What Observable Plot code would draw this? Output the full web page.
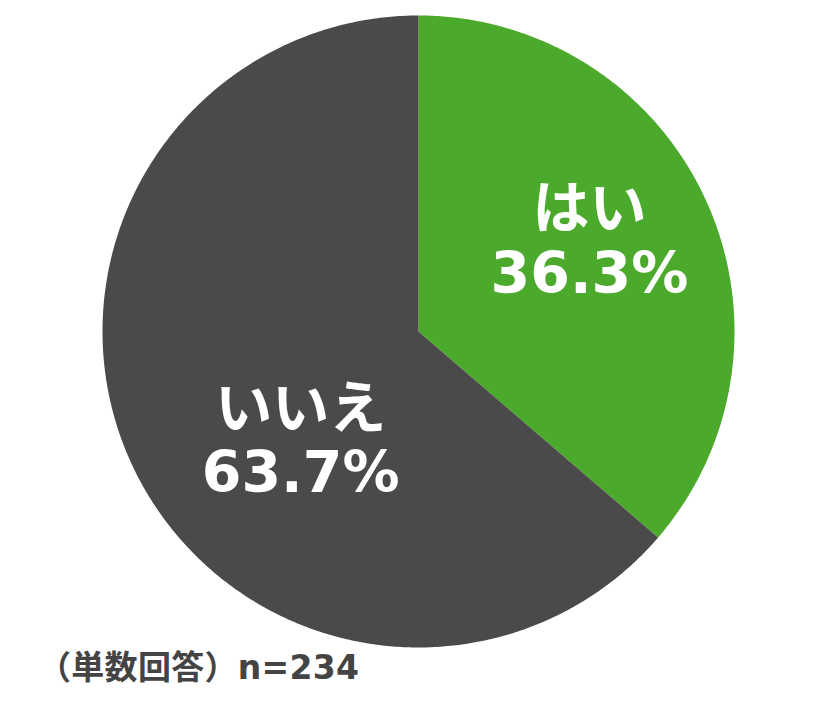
<!DOCTYPE html>
<html>
<head>
<meta charset="utf-8">
<script src="https://cdn.jsdelivr.net/npm/d3@7"></script>
<script src="https://cdn.jsdelivr.net/npm/@observablehq/plot@0.6"></script>
<style>
  html, body { margin: 0; padding: 0; background: #fff; }
  #chart { width: 840px; }
  .caption {
    font-family: "DejaVu Sans", "Noto Sans CJK JP", sans-serif;
    font-weight: bold;
    font-size: 33px;
    color: #444;
    padding-left: 38px;
    margin-top: -4px;
    line-height: 34px;
    letter-spacing: 0.3px;
  }
</style>
</head>
<body>
<div id="chart"></div>
<script>
// ---- data ----
const categories = ["はい", "いいえ"];
const shares = [36.3, 63.7];
const colors = ["#4BAA2C", "#4A4A4A"];
const captionText = "（単数回答）n=234";

// ---- layout (not data) ----
const W = 840, H = 655;
const cx = 418, cy = 331, R = 316;
const labelAnchor = { "はい": [0.541, 0.290], "いいえ": [-0.373, -0.342] };

// build wedge polygons from the shares
const total = d3.sum(shares);
const wedgePts = [];
let start = 0;
categories.forEach((c, i) => {
  const a0 = start / total * 2 * Math.PI;
  const a1 = (start + shares[i]) / total * 2 * Math.PI;
  wedgePts.push({cat: c, x: 0, y: 0});
  const n = Math.max(2, Math.ceil((a1 - a0) / (Math.PI / 360)));
  for (let k = 0; k <= n; k++) {
    const a = a0 + (a1 - a0) * k / n;
    wedgePts.push({cat: c, x: Math.sin(a), y: Math.cos(a)});
  }
  wedgePts.push({cat: c, x: 0, y: 0});
  start += shares[i];
});

const labels = categories.map((c, i) => ({
  cat: c,
  x: labelAnchor[c][0],
  y: labelAnchor[c][1],
  text: `${c}\n${shares[i].toFixed(1)}%`
}));

const plot = Plot.plot({
  width: W,
  height: H,
  margin: 0,
  style: { background: "#fff", overflow: "visible" },
  x: { domain: [-1, 1], range: [cx - R, cx + R], axis: null },
  y: { domain: [-1, 1], range: [cy + R, cy - R], axis: null },
  color: { domain: categories, range: colors },
  marks: [
    Plot.line(wedgePts, {
      x: "x", y: "y", z: "cat",
      fill: "cat",
      stroke: "none",
      curve: "linear-closed"
    }),
    Plot.text(labels, {
      x: "x", y: "y", text: "text",
      fill: "white",
      fontSize: 57,
      fontWeight: "bold",
      fontFamily: "\"DejaVu Sans\", \"Noto Sans CJK JP\", sans-serif",
      lineHeight: 1.13,
      textAnchor: "middle",
      lineAnchor: "middle"
    })
  ]
});

document.getElementById("chart").appendChild(plot);
const cap = document.createElement("div");
cap.className = "caption";
cap.textContent = captionText;
document.getElementById("chart").appendChild(cap);
</script>
</body>
</html>
